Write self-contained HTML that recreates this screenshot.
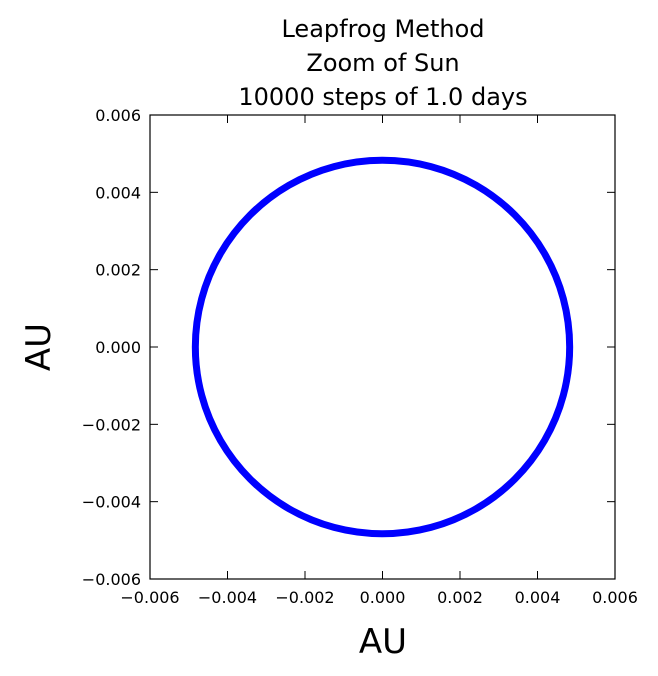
<!DOCTYPE html>
<html><head><meta charset="utf-8"><style>
body{margin:0;background:#fff;}
svg{display:block;font-family:"DejaVu Sans","Liberation Sans",sans-serif;}
</style></head><body>
<svg width="658" height="676" viewBox="0 0 658 676">
<g id="ticks"></g>
<rect x="150" y="115" width="465" height="464" fill="none" stroke="#000" stroke-width="1.2"/>
<path id="orbit" fill="none" stroke="#0000ff" stroke-width="7" stroke-linejoin="round"/>
<text x="383" y="37" font-size="24" text-anchor="middle">Leapfrog Method</text>
<text x="383" y="71" font-size="24" text-anchor="middle">Zoom of Sun</text>
<text x="383" y="105" font-size="24" text-anchor="middle">10000 steps of 1.0 days</text>
<text x="383" y="653" font-size="34" text-anchor="middle">AU</text>
<text transform="translate(50,347) rotate(-90)" font-size="34" text-anchor="middle">AU</text>
</svg>
<script>
const xTicks=[-0.006,-0.004,-0.002,0,0.002,0.004,0.006];
const xTickLabels=["\u22120.006","\u22120.004","\u22120.002","0.000","0.002","0.004","0.006"];
const yTicks=[-0.006,-0.004,-0.002,0,0.002,0.004,0.006];
const yTickLabels=["\u22120.006","\u22120.004","\u22120.002","0.000","0.002","0.004","0.006"];
const orbitX=[0.00483,0.004666,0.004183,0.003415,0.002415,0.00125,0,-0.00125,-0.002415,-0.003415,-0.004183,-0.004666,-0.00483,-0.004666,-0.004183,-0.003415,-0.002415,-0.00125,0,0.00125,0.002415,0.003415,0.004183,0.004666,0.00483];
const orbitY=[0,0.00125,0.002415,0.003415,0.004183,0.004666,0.00483,0.004666,0.004183,0.003415,0.002415,0.00125,0,-0.00125,-0.002415,-0.003415,-0.004183,-0.004666,-0.00483,-0.004666,-0.004183,-0.003415,-0.002415,-0.00125,0];
const X0=150,X1=615,Y0=579,Y1=115,dmin=-0.006,dmax=0.006;
function sx(v){return X0+(v-dmin)/(dmax-dmin)*(X1-X0);}
function sy(v){return Y0+(v-dmin)/(dmax-dmin)*(Y1-Y0);}
const NS="http://www.w3.org/2000/svg";
const g=document.getElementById('ticks');
xTicks.forEach((v,i)=>{
  const x=sx(v);
  const t1=document.createElementNS(NS,'line');
  t1.setAttribute('x1',x);t1.setAttribute('x2',x);t1.setAttribute('y1',Y0);t1.setAttribute('y2',Y0-8);t1.setAttribute('stroke','#000');
  
  
  g.appendChild(t1);
  const t2=document.createElementNS(NS,'line');
  t2.setAttribute('x1',x);t2.setAttribute('x2',x);t2.setAttribute('y1',Y1);t2.setAttribute('y2',Y1+8);t2.setAttribute('stroke','#000');
  
  
  g.appendChild(t2);
  const tx=document.createElementNS(NS,'text');
  tx.setAttribute('x',x);tx.setAttribute('y',Y0+24);tx.setAttribute('font-size','16');tx.setAttribute('text-anchor','middle');
  tx.textContent=xTickLabels[i];
  
  
  g.appendChild(tx);
});
yTicks.forEach((v,i)=>{
  const y=sy(v);
  const t1=document.createElementNS(NS,'line');
  t1.setAttribute('x1',X0);t1.setAttribute('x2',X0+8);t1.setAttribute('y1',y);t1.setAttribute('y2',y);t1.setAttribute('stroke','#000');
  
  
  g.appendChild(t1);
  const t2=document.createElementNS(NS,'line');
  t2.setAttribute('x1',X1);t2.setAttribute('x2',X1-8);t2.setAttribute('y1',y);t2.setAttribute('y2',y);t2.setAttribute('stroke','#000');
  
  
  g.appendChild(t2);
  const tx=document.createElementNS(NS,'text');
  tx.setAttribute('x',X0-9);tx.setAttribute('y',y+6);tx.setAttribute('font-size','16');tx.setAttribute('text-anchor','end');
  tx.textContent=yTickLabels[i];
  
  
  g.appendChild(tx);
});
const P=orbitX.map((v,i)=>[sx(v),sy(orbitY[i])]);
const n=P.length;
let d='M'+P[0][0]+','+P[0][1];
for(let i=0;i<n-1;i++){
  const p0=P[i===0?n-2:i-1],p1=P[i],p2=P[i+1],p3=P[i+2<n?i+2:1];
  const c1=[p1[0]+(p2[0]-p0[0])/6,p1[1]+(p2[1]-p0[1])/6];
  const c2=[p2[0]-(p3[0]-p1[0])/6,p2[1]-(p3[1]-p1[1])/6];
  d+=' C'+c1[0]+','+c1[1]+' '+c2[0]+','+c2[1]+' '+p2[0]+','+p2[1];
}
document.getElementById('orbit').setAttribute('d',d);
</script>
</body></html>
